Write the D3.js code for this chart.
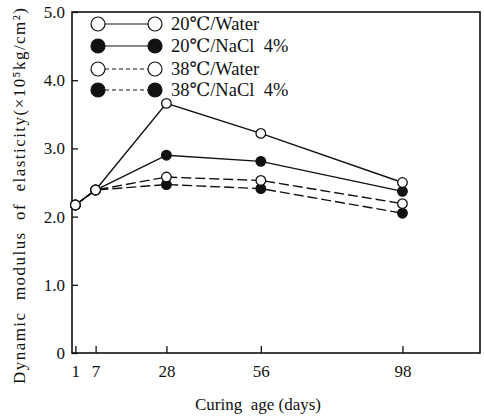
<!DOCTYPE html>
<html>
<head>
<meta charset="utf-8">
<script src="https://cdn.jsdelivr.net/npm/d3@7/dist/d3.min.js"></script>
<style>
  html, body { margin: 0; padding: 0; background: #fff; }
  svg { display: block; }
</style>
</head>
<body>
<div id="chart"></div>
<script>
// ---- data ----
const days = [1, 7, 28, 56, 98];
const water20 = [2.17, 2.39, 3.66, 3.22, 2.50];
const nacl20  = [2.17, 2.39, 2.90, 2.81, 2.37];
const water38 = [2.17, 2.39, 2.58, 2.53, 2.19];
const nacl38  = [2.17, 2.39, 2.47, 2.41, 2.05];
const seriesNames = ["20℃/Water", "20℃/NaCl\u00a0\u00a04%", "38℃/Water", "38℃/NaCl\u00a0\u00a04%"];
const xTickLabels = ["1", "7", "28", "56", "98"];
const yTicks = [0, 1, 2, 3, 4, 5];
const yTickLabels = ["0", "1.0", "2.0", "3.0", "4.0", "5.0"];
const xTitle = "Curing\u00a0 age (days)";
const yTitle = "Dynamic\u00a0 modulus\u00a0 of\u00a0 elasticity(×10\u2075kg/cm\u00b2)";

const FONT = "Liberation Serif, DejaVu Serif, serif";

// ---- layout ----
const W = 484, H = 416;
const L = 72, R = 480, T = 12, B = 353;

const svg = d3.select("#chart").append("svg").attr("width", W).attr("height", H)
  .attr("font-family", FONT);

const x = d3.scaleLinear().domain([0, 121]).range([L, R]);
const y = d3.scaleLinear().domain([0, 5]).range([B, T]);

// frame
svg.append("rect").attr("x", L).attr("y", T).attr("width", R - L).attr("height", B - T)
  .attr("fill", "none").attr("stroke", "#111").attr("stroke-width", 1.6);

// axes with inward ticks
const xAxis = d3.axisBottom(x).tickValues(days).tickSize(-7).tickPadding(12)
  .tickFormat((d, i) => xTickLabels[i]);
const gx = svg.append("g").attr("transform", `translate(0,${B})`).call(xAxis)
  .attr("font-family", FONT).attr("font-size", 17);
gx.select(".domain").remove();
gx.selectAll("line").attr("stroke", "#111").attr("stroke-width", 1.3);
gx.selectAll("text").attr("fill", "#111");

const yAxis = d3.axisLeft(y).tickValues(yTicks).tickSize(-6).tickPadding(7)
  .tickFormat((d, i) => yTickLabels[i]);
const gy = svg.append("g").attr("transform", `translate(${L},0)`).call(yAxis)
  .attr("font-family", FONT).attr("font-size", 17);
gy.select(".domain").remove();
gy.selectAll("line").attr("stroke", "#111").attr("stroke-width", 1.3);
gy.selectAll("text").attr("fill", "#111");

// series
const series = [
  { name: seriesNames[0], vals: water20, dash: null, filled: false },
  { name: seriesNames[1], vals: nacl20,  dash: null, filled: true },
  { name: seriesNames[2], vals: water38, dash: "10,4", filled: false },
  { name: seriesNames[3], vals: nacl38,  dash: "10,4", filled: true },
];

const line = d3.line().x(d => x(d[0])).y(d => y(d[1]));

series.forEach(s => {
  svg.append("path").datum(days.map((d, i) => [d, s.vals[i]]))
    .attr("d", line).attr("fill", "none").attr("stroke", "#111")
    .attr("stroke-width", 1.4).attr("stroke-dasharray", s.dash);
});
// filled markers first, open markers on top
const order = [1, 3, 0, 2];
order.forEach(k => {
  const s = series[k];
  svg.append("g").selectAll("circle").data(days.map((d, i) => [d, s.vals[i]]))
    .join("circle")
    .attr("cx", d => x(d[0])).attr("cy", d => y(d[1])).attr("r", 4.8)
    .attr("fill", s.filled ? "#111" : "#fff").attr("stroke", "#111").attr("stroke-width", 1.3);
});

// legend
const legY = [24, 46, 69, 90];
const legDash = [null, null, "4,3", "4,3"];
series.forEach((s, i) => {
  const g = svg.append("g").attr("transform", `translate(0,${legY[i]})`);
  g.append("line").attr("x1", 98).attr("x2", 155).attr("y1", 0).attr("y2", 0)
    .attr("stroke", "#111").attr("stroke-width", 1.2).attr("stroke-dasharray", legDash[i]);
  [98, 155].forEach(cx => g.append("circle").attr("cx", cx).attr("cy", 0).attr("r", 7)
    .attr("fill", s.filled ? "#111" : "#fff").attr("stroke", "#111").attr("stroke-width", 1.2));
  g.append("text").attr("x", 171).attr("y", 6).attr("font-size", 18.5).attr("fill", "#111").text(s.name);
});

// axis titles
svg.append("text").attr("x", 258).attr("y", 410).attr("text-anchor", "middle")
  .attr("font-size", 17).attr("fill", "#111").text(xTitle);
svg.append("text").attr("transform", "translate(25,196) rotate(-90)")
  .attr("text-anchor", "middle").attr("font-size", 17).attr("fill", "#111")
  .attr("textLength", 376).attr("lengthAdjust", "spacing").text(yTitle);
</script>
</body>
</html>
